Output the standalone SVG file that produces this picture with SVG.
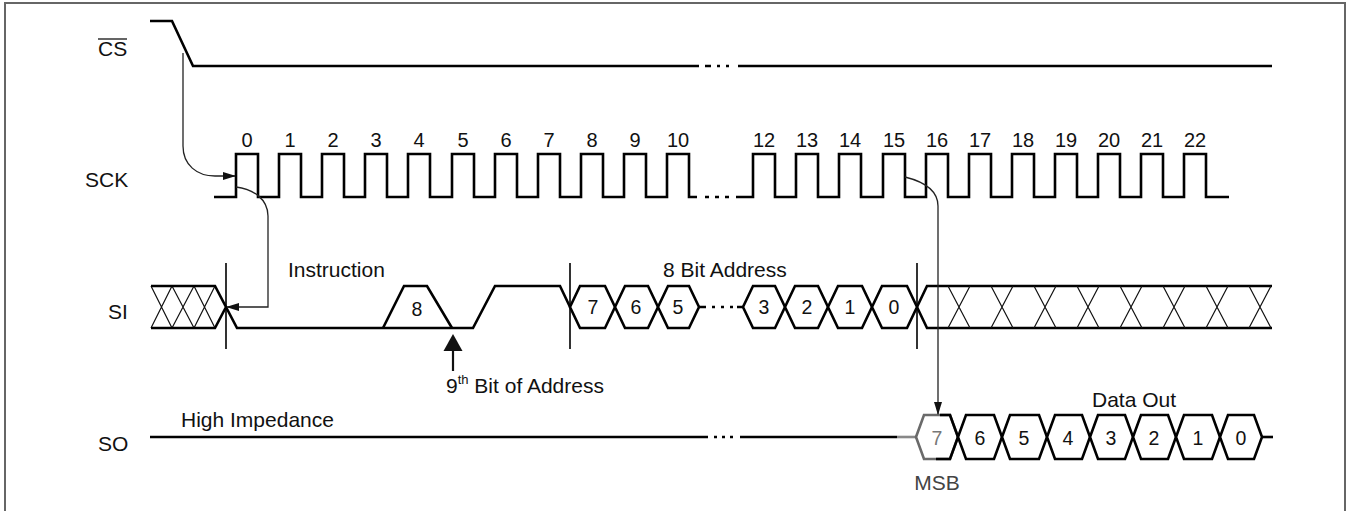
<svg xmlns="http://www.w3.org/2000/svg" width="1353" height="511" viewBox="0 0 1353 511">
<defs>
<style>
.sig{fill:none;stroke:#000;stroke-width:2.6;stroke-linejoin:miter;stroke-linecap:butt}
.thin{fill:none;stroke:#111;stroke-width:1.2}
.mark{fill:none;stroke:#000;stroke-width:1.6}
.conn{fill:none;stroke:#222;stroke-width:1.3}
.hex{fill:#fff;stroke:#000;stroke-width:2.6;stroke-linejoin:miter}
text{font-family:"Liberation Sans",Arial,sans-serif;fill:#111}
.lbl{font-size:21px}
.num{font-size:20px;text-anchor:middle}
.dig{font-size:19.5px;text-anchor:middle}
</style>
<marker id="ah" markerWidth="13" markerHeight="8" refX="12" refY="4" orient="auto" markerUnits="userSpaceOnUse"><path d="M0,0 L13,4 L0,8 z" fill="#111"/></marker>
</defs>
<rect width="1353" height="511" fill="#fff"/>
<path d="M5,520 V3 H1345 V520" fill="none" stroke="#666" stroke-width="2"/>

<g id="cs">
<text class="lbl" x="98" y="56">CS</text>
<line x1="98" y1="39" x2="127" y2="39" stroke="#111" stroke-width="1.3"/>
<path class="sig" d="M150,21 H172 L193,66 H699 M705,66 H711 M717,66 H720 M726,66 H729 M738,66 H1272"/>
</g>

<g id="sck">
<text class="lbl" x="85" y="187">SCK</text>
<path class="sig" d="M214,197 H236 V154 H258 V197 H279 V154 H301 V197 H322 V154 H344 V197 H365 V154 H387 V197 H408 V154 H430 V197 H452 V154 H474 V197 H495 V154 H517 V197 H538 V154 H560 V197 H581 V154 H603 V197 H624 V154 H646 V197 H667 V154 H689 V197 H697 M705,197 H709 M715,197 H719 M725,197 H729 M736,197 H753 V154 H775 V197 H796 V154 H818 V197 H839 V154 H861 V197 H883 V154 H905 V197 H926 V154 H948 V197 H969 V154 H991 V197 H1012 V154 H1034 V197 H1055 V154 H1077 V197 H1098 V154 H1120 V197 H1141 V154 H1163 V197 H1184 V154 H1206 V197 H1229"/>
<g>
<text class="num" x="247" y="147">0</text>
<text class="num" x="290" y="147">1</text>
<text class="num" x="333" y="147">2</text>
<text class="num" x="376" y="147">3</text>
<text class="num" x="419" y="147">4</text>
<text class="num" x="463" y="147">5</text>
<text class="num" x="506" y="147">6</text>
<text class="num" x="549" y="147">7</text>
<text class="num" x="592" y="147">8</text>
<text class="num" x="635" y="147">9</text>
<text class="num" x="678" y="147">10</text>
<text class="num" x="764" y="147">12</text>
<text class="num" x="807" y="147">13</text>
<text class="num" x="850" y="147">14</text>
<text class="num" x="894" y="147">15</text>
<text class="num" x="937" y="147">16</text>
<text class="num" x="980" y="147">17</text>
<text class="num" x="1023" y="147">18</text>
<text class="num" x="1066" y="147">19</text>
<text class="num" x="1109" y="147">20</text>
<text class="num" x="1152" y="147">21</text>
<text class="num" x="1195" y="147">22</text>
</g>
</g>

<g id="si">
<text class="lbl" x="108" y="319">SI</text>
<text class="lbl" x="288" y="277">Instruction</text>
<text class="lbl" x="663" y="277">8 Bit Address</text>
<path class="thin" d="M151,286 L172,328 M172,286 L151,328 M172,286 L194,328 M194,286 L172,328 M194,286 L215,328 M215,286 L194,328"/>
<path class="sig" d="M151,286 H215 L237,328 H473 L495,286 H560 L570,307 M151,328 H215 L226,307"/>
<path class="sig" d="M383,328 L404,286 H427 L452,328"/>
<text class="dig" x="417" y="316">8</text>
<path class="hex" d="M570,307 L580,286 H605 L615,307 L605,328 H580 Z"/>
<path class="hex" d="M615,307 L625,286 H648 L658,307 L648,328 H625 Z"/>
<path class="hex" d="M658,307 L668,286 H689 L699,307 L689,328 H668 Z"/>
<path class="sig" d="M699,307 H706 M712,307 H715 M721,307 H724 M730,307 H733 M737,307 H743"/>
<path class="hex" d="M743,307 L753,286 H775 L785,307 L775,328 H753 Z"/>
<path class="hex" d="M785,307 L795,286 H818 L828,307 L818,328 H795 Z"/>
<path class="hex" d="M828,307 L838,286 H862 L872,307 L862,328 H838 Z"/>
<path class="hex" d="M872,307 L882,286 H907 L917,307 L907,328 H882 Z"/>
<path class="sig" d="M917,307 L927,286 H1272 M917,307 L927,328 H1272"/>
<path class="thin" d="M948,286 L970,328 M970,286 L948,328 M991,286 L1013,328 M1013,286 L991,328 M1034,286 L1056,328 M1056,286 L1034,328 M1077,286 L1099,328 M1099,286 L1077,328 M1120,286 L1142,328 M1142,286 L1120,328 M1163,286 L1185,328 M1185,286 L1163,328 M1206,286 L1228,328 M1228,286 L1206,328 M1249,286 L1271,328 M1271,286 L1249,328"/>
<text class="dig" x="593" y="314">7</text>
<text class="dig" x="636" y="314">6</text>
<text class="dig" x="678" y="314">5</text>
<text class="dig" x="764" y="314">3</text>
<text class="dig" x="807" y="314">2</text>
<text class="dig" x="850" y="314">1</text>
<text class="dig" x="894" y="314">0</text>
<path class="mark" d="M226,263 V349 M570,263 V349 M917,263 V349"/>
<text class="lbl" x="446" y="393">9<tspan font-size="13" dy="-9">th</tspan><tspan dy="9"> Bit of Address</tspan></text>
</g>

<g id="so">
<text class="lbl" x="98" y="451">SO</text>
<text class="lbl" x="181" y="427">High Impedance</text>
<text class="lbl" x="1092" y="407">Data Out</text>
<path class="sig" d="M150,437 H708 M714,437 H717 M722,437 H725 M730,437 H733 M740,437 H897"/>
<path d="M897,437 H916" fill="none" stroke="#888" stroke-width="2.6"/>
<path d="M916,437 L924,415 H950 L958,437 L950,459 H924 Z" fill="#fff" stroke="#6a6a6a" stroke-width="2.6"/>
<path class="sig" d="M940,415 H950 L958,437 L950,459 H936"/>
<path class="hex" d="M958,437 L966,415 H994 L1002,437 L994,459 H966 Z"/>
<path class="hex" d="M1002,437 L1010,415 H1039 L1047,437 L1039,459 H1010 Z"/>
<path class="hex" d="M1047,437 L1055,415 H1082 L1090,437 L1082,459 H1055 Z"/>
<path class="hex" d="M1090,437 L1098,415 H1125 L1133,437 L1125,459 H1098 Z"/>
<path class="hex" d="M1133,437 L1141,415 H1168 L1176,437 L1168,459 H1141 Z"/>
<path class="hex" d="M1176,437 L1184,415 H1212 L1220,437 L1212,459 H1184 Z"/>
<path class="hex" d="M1220,437 L1228,415 H1254 L1262,437 L1254,459 H1228 Z"/>
<path class="sig" d="M1262,437 H1273"/>
<text class="dig" x="937" y="445" style="fill:#777">7</text>
<text class="dig" x="980" y="445">6</text>
<text class="dig" x="1024" y="445">5</text>
<text class="dig" x="1068" y="445">4</text>
<text class="dig" x="1111" y="445">3</text>
<text class="dig" x="1154" y="445">2</text>
<text class="dig" x="1198" y="445">1</text>
<text class="dig" x="1241" y="445">0</text>
<text class="lbl" x="937" y="490" text-anchor="middle" style="fill:#444">MSB</text>
</g>

<g id="connectors">
<path class="conn" d="M183,53 V146 C183,165 197,176 215,176 H235" marker-end="url(#ah)"/>
<path class="conn" d="M236,187 C253,189 268,199 268,216 V307 H227" marker-end="url(#ah)"/>
<path class="conn" d="M905,177 C925,182 938,191 938,206 V414" marker-end="url(#ah)"/>
<path d="M453,371 V350" fill="none" stroke="#111" stroke-width="2.2"/>
<path d="M453,334 L462.5,351 H443.5 Z" fill="#111"/>
</g>
</svg>
